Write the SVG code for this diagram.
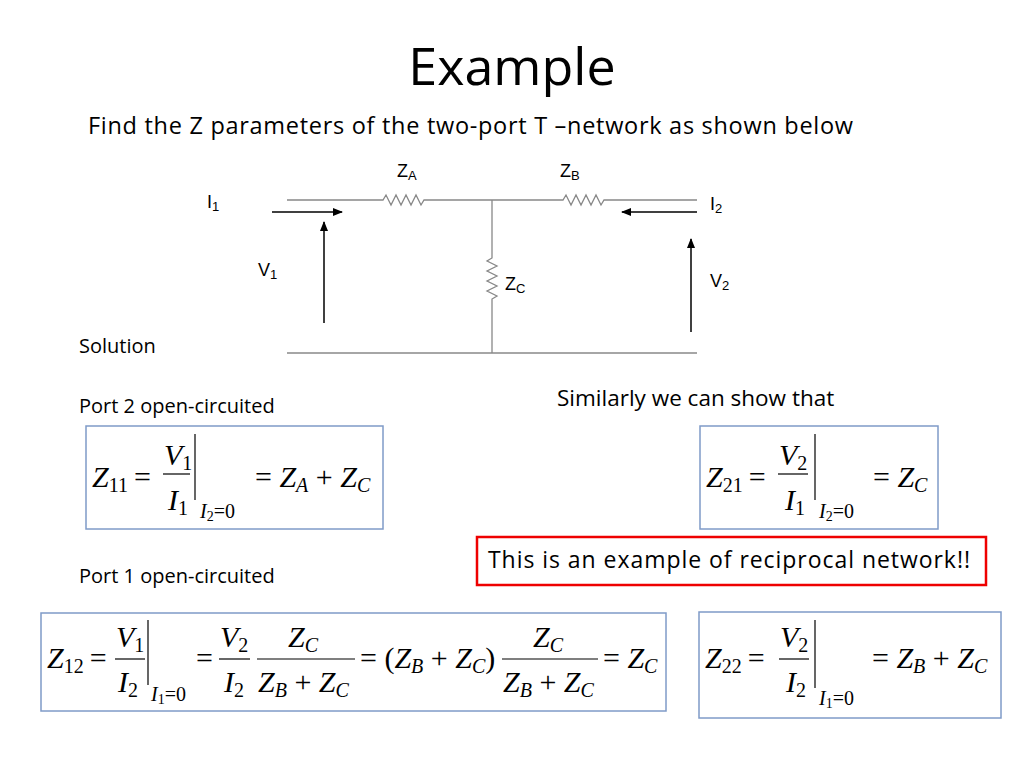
<svg xmlns="http://www.w3.org/2000/svg" width="1024" height="768" viewBox="0 0 1024 768">
<style>
.t{font-family:"Open Sans","Liberation Sans",sans-serif;fill:#000}
.c{font-family:"Liberation Sans",sans-serif;font-size:18px}
.s{font-size:13px}
.w{stroke:#888;stroke-width:1.3;fill:none}
.a{stroke:#000;stroke-width:1.5;fill:none}
.m{font-family:"Liberation Serif",serif;font-style:italic;font-size:30px}
.u{font-size:20px}
.n{font-style:normal}
.b{fill:#fff;stroke:#7f9bc8;stroke-width:1.5}
.fl{stroke:#000;stroke-width:1.2}
</style>
<defs><marker id="ar" markerWidth="10" markerHeight="8" refX="9" refY="4" orient="auto" markerUnits="userSpaceOnUse"><path d="M0,0L10,4L0,8z"/></marker></defs>
<rect width="1024" height="768" fill="#fff"/>
<text class="t" x="512" y="85" font-size="52" text-anchor="middle">Example</text>
<text class="t" x="88" y="134" font-size="23.5" textLength="765">Find the Z parameters of the two-port T –network as shown below</text>
<g id="circuit">
<path class="w" d="M287,200H383l3,-5 5,10 5,-10 5,10 5,-10 5,10 5,-10 5,10 3,-5H563l3,-5 5,10 5,-10 5,10 5,-10 5,10 5,-10 5,10 3,-5H697"/>
<path class="w" d="M492,200V258l-5,3 10,5 -10,5 10,5 -10,5 10,5 -10,5 10,5 -5,3V353"/>
<path class="w" d="M287,353H697"/>
</g>
<g id="connectors">
<line class="a" x1="272" y1="212" x2="342" y2="212" marker-end="url(#ar)"/>
<line class="a" x1="697" y1="212" x2="622" y2="212" marker-end="url(#ar)"/>
<line class="a" x1="324" y1="323" x2="324" y2="222" marker-end="url(#ar)"/>
<line class="a" x1="691" y1="332" x2="691" y2="239" marker-end="url(#ar)"/>
</g>
<g id="labels" class="c">
<text x="397" y="177">Z<tspan class="s" dy="3">A</tspan></text>
<text x="560" y="177">Z<tspan class="s" dy="3">B</tspan></text>
<text x="505" y="290">Z<tspan class="s" dy="3">C</tspan></text>
<text x="207" y="208">I<tspan class="s" dy="3">1</tspan></text>
<text x="710" y="210">I<tspan class="s" dy="3">2</tspan></text>
<text x="258" y="276">V<tspan class="s" dy="3">1</tspan></text>
<text x="710" y="287">V<tspan class="s" dy="3">2</tspan></text>
</g>
<text class="t" x="79" y="353" font-size="20">Solution</text>
<text class="t" x="79" y="413" font-size="20">Port 2 open-circuited</text>
<text class="t" x="557" y="406" font-size="22.5">Similarly we can show that</text>
<text class="t" x="79" y="583" font-size="20">Port 1 open-circuited</text>
<g id="eq11">
<rect class="b" x="86" y="426" width="297" height="103"/>
<text class="m" x="92" y="487">Z<tspan class="u n" dy="5">11</tspan><tspan class="n" dy="-5" dx="6">=</tspan></text>
<text class="m" x="164" y="465">V<tspan class="u n" dy="5">1</tspan></text>
<line class="fl" x1="163" y1="474" x2="190" y2="474"/>
<text class="m" x="168" y="510">I<tspan class="u n" dy="5">1</tspan></text>
<line class="fl" x1="195" y1="434" x2="195" y2="500"/>
<text class="m u" x="200" y="518">I<tspan class="n" font-size="14" dy="3">2</tspan><tspan class="n" dy="-3">=0</tspan></text>
<text class="m" x="255" y="487"><tspan class="n">=</tspan> Z<tspan class="u" dy="5">A</tspan><tspan class="n" dy="-5"> + </tspan>Z<tspan class="u" dy="5">C</tspan></text>
</g>
<g id="eq21">
<rect class="b" x="700" y="426" width="238" height="103"/>
<text class="m" x="706" y="487">Z<tspan class="u n" dy="5">21</tspan><tspan class="n" dy="-5" dx="6">=</tspan></text>
<text class="m" x="779" y="465">V<tspan class="u n" dy="5">2</tspan></text>
<line class="fl" x1="778" y1="474" x2="808" y2="474"/>
<text class="m" x="785" y="510">I<tspan class="u n" dy="5">1</tspan></text>
<line class="fl" x1="815" y1="434" x2="815" y2="500"/>
<text class="m u" x="819" y="518">I<tspan class="n" font-size="14" dy="3">2</tspan><tspan class="n" dy="-3">=0</tspan></text>
<text class="m" x="873" y="487"><tspan class="n">=</tspan> Z<tspan class="u" dy="5">C</tspan></text>
</g>
<g id="reciprocal">
<rect x="477" y="537" width="509" height="48" fill="#fff" stroke="#e00" stroke-width="2.5"/>
<text class="t" x="488" y="568" font-size="23" textLength="482">This is an example of reciprocal network!!</text>
</g>
<g id="eq12">
<rect class="b" x="41" y="613" width="625" height="98"/>
<text class="m" x="47" y="668">Z<tspan class="u n" dy="5">12</tspan><tspan class="n" dy="-5" dx="6">=</tspan></text>
<text class="m" x="116" y="647">V<tspan class="u n" dy="5">1</tspan></text>
<line class="fl" x1="115" y1="659" x2="145" y2="659"/>
<text class="m" x="118" y="692">I<tspan class="u n" dy="5">2</tspan></text>
<line class="fl" x1="148" y1="620" x2="148" y2="685"/>
<text class="m u" x="151" y="701">I<tspan class="n" font-size="14" dy="3">1</tspan><tspan class="n" dy="-3">=0</tspan></text>
<text class="m n" x="196" y="668">=</text>
<text class="m" x="220" y="647">V<tspan class="u n" dy="5">2</tspan></text>
<line class="fl" x1="219" y1="659" x2="250" y2="659"/>
<text class="m" x="224" y="692">I<tspan class="u n" dy="5">2</tspan></text>
<text class="m" x="288" y="647">Z<tspan class="u" dy="5">C</tspan></text>
<line class="fl" x1="257" y1="659" x2="355" y2="659"/>
<text class="m" x="258" y="692">Z<tspan class="u" dy="5">B</tspan><tspan class="n" dy="-5"> + </tspan>Z<tspan class="u" dy="5">C</tspan></text>
<text class="m" x="360" y="668"><tspan class="n">= (</tspan>Z<tspan class="u" dy="5">B</tspan><tspan class="n" dy="-5"> + </tspan>Z<tspan class="u" dy="5">C</tspan><tspan class="n" dy="-5">)</tspan></text>
<text class="m" x="533" y="647">Z<tspan class="u" dy="5">C</tspan></text>
<line class="fl" x1="502" y1="659" x2="598" y2="659"/>
<text class="m" x="503" y="692">Z<tspan class="u" dy="5">B</tspan><tspan class="n" dy="-5"> + </tspan>Z<tspan class="u" dy="5">C</tspan></text>
<text class="m" x="603" y="668"><tspan class="n">=</tspan> Z<tspan class="u" dy="5">C</tspan></text>
</g>
<g id="eq22">
<rect class="b" x="699" y="612" width="302" height="106"/>
<text class="m" x="705" y="668">Z<tspan class="u n" dy="5">22</tspan><tspan class="n" dy="-5" dx="6">=</tspan></text>
<text class="m" x="780" y="647">V<tspan class="u n" dy="5">2</tspan></text>
<line class="fl" x1="779" y1="659" x2="809" y2="659"/>
<text class="m" x="786" y="692">I<tspan class="u n" dy="5">2</tspan></text>
<line class="fl" x1="815" y1="620" x2="815" y2="688"/>
<text class="m u" x="819" y="705">I<tspan class="n" font-size="14" dy="3">1</tspan><tspan class="n" dy="-3">=0</tspan></text>
<text class="m" x="872" y="668"><tspan class="n">=</tspan> Z<tspan class="u" dy="5">B</tspan><tspan class="n" dy="-5"> + </tspan>Z<tspan class="u" dy="5">C</tspan></text>
</g>
</svg>
